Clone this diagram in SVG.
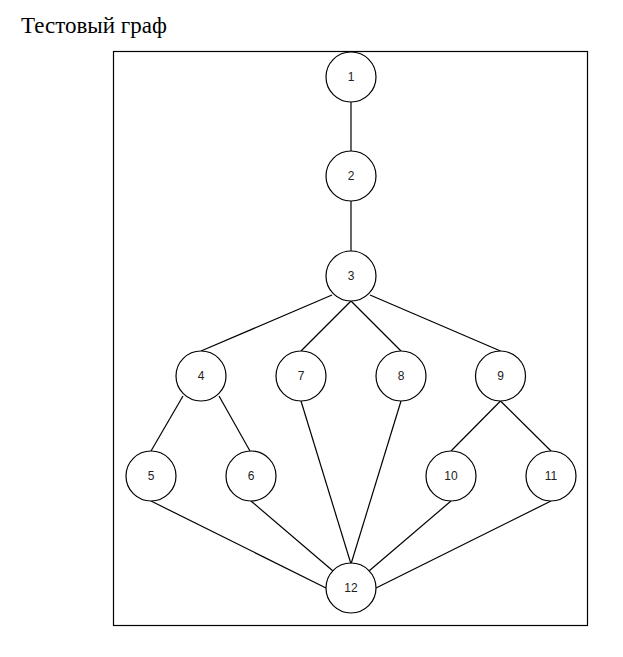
<svg xmlns="http://www.w3.org/2000/svg" width="623" height="657" viewBox="0 0 623 657">
<style>
.node circle{fill:#fff;stroke:#000;stroke-width:1.2}
.node text{font-family:"Liberation Sans",Arial,sans-serif;font-size:12px;fill:#222;text-anchor:middle;dominant-baseline:central}
.edges line{stroke:#000;stroke-width:1.2}
.title{font-family:"Liberation Serif","Times New Roman",serif;font-size:23px;fill:#000}
</style>
<rect width="623" height="657" fill="#fff"/>
<text class="title" x="21" y="33">Тестовый граф</text>
<rect x="113.5" y="51.5" width="474" height="574" fill="none" stroke="#000" stroke-width="1.2"/>
<g class="edges">
<line x1="351" y1="102" x2="351" y2="151"/>
<line x1="351" y1="201" x2="351" y2="251"/>
<line x1="332" y1="295" x2="201" y2="351"/>
<line x1="351" y1="301" x2="301" y2="351"/>
<line x1="351" y1="301" x2="401" y2="351"/>
<line x1="370" y1="295" x2="500.5" y2="351"/>
<line x1="183" y1="396" x2="151" y2="451"/>
<line x1="219" y1="396" x2="250" y2="451"/>
<line x1="500.5" y1="401" x2="451" y2="451"/>
<line x1="500.5" y1="401" x2="551" y2="451"/>
<line x1="151" y1="501" x2="326" y2="588"/>
<line x1="251" y1="501" x2="333" y2="571"/>
<line x1="301" y1="401" x2="351" y2="564"/>
<line x1="401" y1="401" x2="351" y2="564"/>
<line x1="451" y1="501" x2="369" y2="571"/>
<line x1="551" y1="501" x2="376" y2="588"/>
</g>
<g id="n1" class="node"><circle cx="351" cy="77" r="25"/><text x="351" y="77">1</text></g>
<g id="n2" class="node"><circle cx="351" cy="176" r="25"/><text x="351" y="176">2</text></g>
<g id="n3" class="node"><circle cx="351" cy="276" r="25"/><text x="351" y="276">3</text></g>
<g id="n4" class="node"><circle cx="201" cy="376" r="25"/><text x="201" y="376">4</text></g>
<g id="n7" class="node"><circle cx="301" cy="376" r="25"/><text x="301" y="376">7</text></g>
<g id="n8" class="node"><circle cx="401" cy="376" r="25"/><text x="401" y="376">8</text></g>
<g id="n9" class="node"><circle cx="500.5" cy="376" r="25"/><text x="500.5" y="376">9</text></g>
<g id="n5" class="node"><circle cx="151" cy="476" r="25"/><text x="151" y="476">5</text></g>
<g id="n6" class="node"><circle cx="251" cy="476" r="25"/><text x="251" y="476">6</text></g>
<g id="n10" class="node"><circle cx="451" cy="476" r="25"/><text x="451" y="476">10</text></g>
<g id="n11" class="node"><circle cx="551" cy="476" r="25"/><text x="551" y="476">11</text></g>
<g id="n12" class="node"><circle cx="351" cy="588" r="25"/><text x="351" y="588">12</text></g>
</svg>
